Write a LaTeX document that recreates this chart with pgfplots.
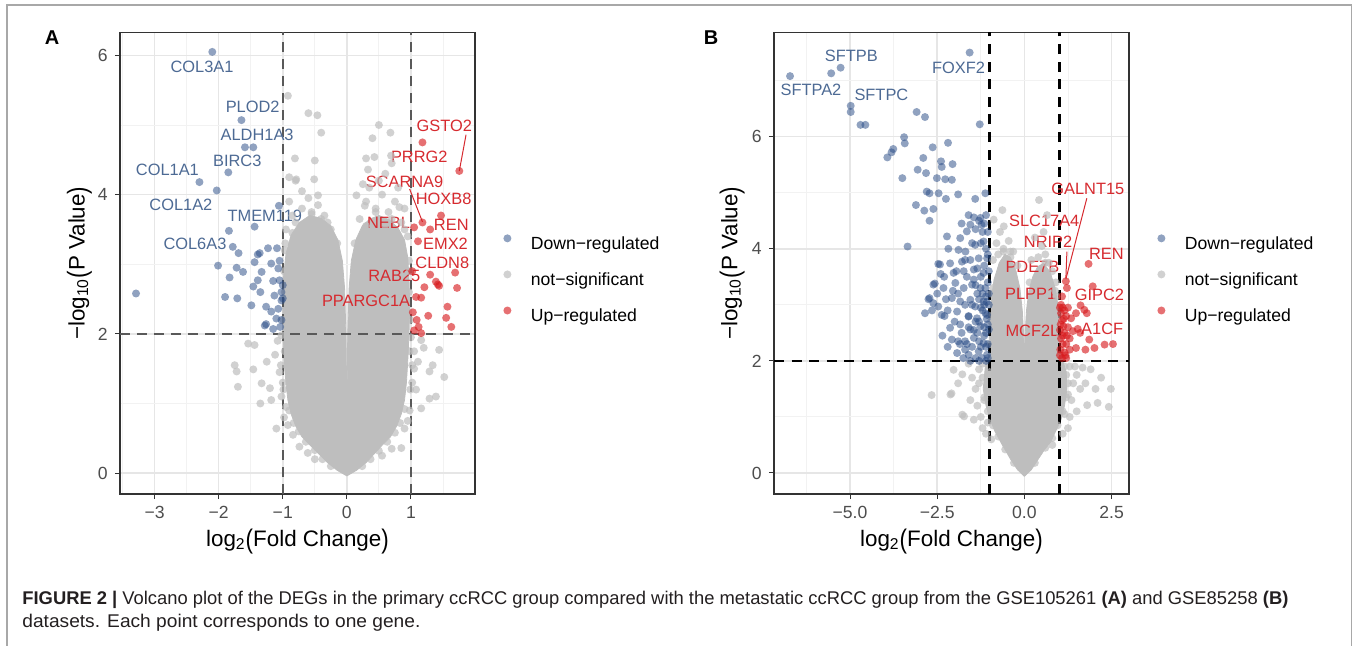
\documentclass[border=0pt]{standalone}
\usepackage{graphicx}
\usepackage{pgfplots}
\pgfplotsset{compat=1.18}
\usepackage{fontspec}
\setmainfont{Liberation Sans}
\definecolor{ptgray}{HTML}{BEBEBE}
\definecolor{cloudgray}{HTML}{BEBEBE}
\definecolor{ptblue}{HTML}{2A4C86}
\definecolor{ptred}{HTML}{D7191C}
\definecolor{lblblue}{HTML}{4D6A94}
\definecolor{lblred}{HTML}{D62A2F}
\definecolor{ticklab}{HTML}{4D4D4D}
\definecolor{gridmaj}{HTML}{E6E6E6}
\definecolor{gridmin}{HTML}{F2F2F2}
\definecolor{framecol}{HTML}{A8A8A8}
\definecolor{capcol}{HTML}{231F20}
\newcommand\bpar[1]{\raisebox{-0.08em}{\scalebox{1}[1.2]{#1}}}
\pgfplotsset{
  volcano/.style={
    scale only axis, width=177.5pt, height=230.8pt,
    axis line style={draw=black!80, line width=0.6pt},
    tick align=outside, major tick length=2.6pt, minor tick length=0pt,
    tick pos=left,
    tick style={draw=black!80, line width=0.5pt},
    grid=both,
    major grid style={draw=gridmaj, line width=0.75pt},
    minor grid style={draw=gridmin, line width=0.45pt},
    ticklabel style={font=\fontsize{8.8}{10}\selectfont, text=ticklab},
    xlabel style={font=\fontsize{11.2}{13}\selectfont, at={(axis description cs:0.5,-0.102)}, anchor=center},
    ylabel style={font=\fontsize{11.2}{13}\selectfont, anchor=center},
    xlabel={log\textsubscript{2}\bpar{(}Fold Change\bpar{)}},
    ylabel={−log\textsubscript{10}\bpar{(}P Value\bpar{)}},
    legend style={at={(axis description cs:1,0.465)}, anchor=west, xshift=13.5pt, draw=none, fill=none, inner sep=0pt, font=\fontsize{8.8}{10}\selectfont, row sep=9.1pt, nodes={inner sep=0pt}},
    legend cell align=left,
    legend image code/.code={\path[draw=none,fill=none] (0pt,0pt) rectangle (14.2pt,5pt); \draw[#1] plot coordinates {(2.5pt,3pt)};},
  },
  ptbase/.style={only marks, mark=*, mark size=2pt, forget plot},
  gpts/.style={ptbase, color=ptgray, mark options={draw=ptgray, fill=ptgray, draw opacity=0, fill opacity=0.7}},
  bpts/.style={ptbase, color=ptblue, mark options={draw=ptblue, fill=ptblue, draw opacity=0, fill opacity=0.52}},
  rpts/.style={ptbase, color=ptred, mark options={draw=ptred, fill=ptred, draw opacity=0, fill opacity=0.62}},
  legB/.style={only marks, mark=*, mark size=2pt, color=ptblue, mark options={draw=ptblue, fill=ptblue, draw opacity=0, fill opacity=0.52}},
  legG/.style={only marks, mark=*, mark size=2pt, color=ptgray, mark options={draw=ptgray, fill=ptgray, draw opacity=0, fill opacity=0.7}},
  legR/.style={only marks, mark=*, mark size=2pt, color=ptred, mark options={draw=ptred, fill=ptred, draw opacity=0, fill opacity=0.62}},
}
\tikzset{
  lblB/.style={font=\fontsize{8.2}{9}\selectfont, text=lblblue, inner sep=0pt},
  lblR/.style={font=\fontsize{8.2}{9}\selectfont, text=lblred, inner sep=0pt},
}
\begin{document}
\begin{tikzpicture}
\path[use as bounding box] (0pt,0pt) rectangle (678.5pt,322.5pt);
\draw[framecol, line width=0.8pt] (3.6pt,-5pt) rectangle (675.7pt,320pt);

% ---------------- Panel A ----------------
\begin{axis}[volcano, at={(60pt,75.5pt)}, anchor=south west,
  xmin=-3.54, xmax=2.0, ymin=-0.30, ymax=6.33,
  xtick={-3,-2,-1,0,1}, xticklabels={−3,−2,−1,0,1},
  minor xtick={-3.5,-2.5,-1.5,-0.5,0.5,1.5},
  ytick={0,2,4,6}, yticklabels={0,2,4,6},
  minor ytick={1,3,5},
  ylabel style={at={(axis description cs:-0.114,0.5)}},
]
% dense cloud of not-significant genes
\addplot[fill=cloudgray, draw=cloudgray, line width=0.4pt, line join=round, forget plot] coordinates {
(0,-0.04) (0.15,0.04) (0.3,0.15) (0.42,0.27) (0.55,0.40) (0.68,0.52) (0.78,0.68) (0.85,0.85)
(0.9,1.05) (0.93,1.3) (0.95,1.6) (0.97,2.0) (0.98,2.4) (0.97,2.8) (0.95,3.1) (0.9,3.35)
(0.8,3.52) (0.66,3.64) (0.5,3.7) (0.36,3.65) (0.24,3.55) (0.14,3.35) (0.07,3.05) (0.035,2.65)
(0.014,2.0) (0.004,1.15) (-0.004,1.15) (-0.014,2.0) (-0.035,2.65) (-0.07,3.05) (-0.14,3.35) (-0.25,3.55)
(-0.4,3.66) (-0.58,3.7) (-0.74,3.6) (-0.87,3.42) (-0.95,3.15) (-0.99,2.8) (-1.0,2.4) (-1.0,2.0)
(-0.98,1.6) (-0.95,1.3) (-0.92,1.05) (-0.87,0.85) (-0.8,0.68) (-0.7,0.52) (-0.57,0.40) (-0.43,0.27)
(-0.3,0.15) (-0.15,0.04) (0,-0.04)};
\addplot[gpts] coordinates {
(-1.54,1.86) (-1.44,1.84) (-1.75,1.55) (-1.72,1.46) (-1.70,1.24) (-1.46,1.49) (-1.33,1.29) (-1.20,1.22)
(-1.35,1.0) (-1.10,0.64) (-1.18,1.05) (-1.12,1.7) (-1.05,1.45) (-1.08,1.9) (-1.25,1.6) (-1.02,1.1)
(-0.98,0.8) (-0.92,0.69) (-0.84,0.55) (-0.61,0.29) (-0.74,0.38) (-0.5,0.2) (-0.95,0.95) (-1.0,1.3)
(1.16,1.91) (1.44,1.77) (1.34,1.55) (1.29,1.46) (1.52,1.38) (1.11,1.60) (1.29,1.07) (1.39,1.10)
(1.16,0.93) (0.85,0.36) (0.90,0.64) (1.05,1.75) (1.02,1.3) (1.08,1.2) (0.98,0.9) (1.05,1.5)
(0.95,0.75) (0.7,0.35) (0.55,0.25) (1.2,1.8) (1.0,1.95) (-1.02,1.98)
(-0.97,1.75) (-1.03,1.55) (-0.99,1.2) (-0.9,0.9) (-0.83,0.72) (-0.75,0.6) (-0.64,0.45) (-0.5,0.33)
(-0.38,0.2) (-0.25,0.1) (-0.99,2.2) (-0.98,2.9) (-0.96,3.3)
(0.98,1.75) (1.02,1.55) (0.99,1.2) (0.9,0.92) (0.83,0.72) (0.75,0.58) (0.63,0.45) (0.5,0.32)
(0.37,0.2) (0.24,0.1) (0.99,2.2) (0.98,2.9) (0.9,3.5)
(-0.55,3.75) (-0.4,3.65) (0.45,3.75) (0.7,3.65) (0.3,3.55) (-0.85,3.45)
(-0.92,5.42) (-0.60,5.17) (-0.46,5.14) (-0.40,4.89) (0.50,5.0) (0.68,4.89) (0.40,4.81) (-0.81,4.52)
(-0.50,4.49) (-0.79,4.22) (-0.51,4.22) (0.33,4.36) (0.43,4.54) (0.30,4.52) (0.69,4.56) (-0.80,4.2)
(-0.45,3.99) (0.15,3.99) (0.28,3.84) (0.82,3.82)
(-0.9,3.9) (-0.85,3.7) (-0.7,3.8) (-0.6,3.95) (-0.55,3.72) (-0.45,3.85) (-0.35,3.7) (-0.7,4.05)
(-0.3,3.6) (-0.8,3.6) (-0.95,3.5) (-0.9,4.25) (-0.25,3.5) (-0.15,3.3)
(0.2,3.65) (0.3,3.9) (0.45,3.8) (0.55,4.0) (0.65,3.75) (0.75,3.9) (0.85,3.6) (0.35,4.1)
(0.5,4.2) (0.6,4.3) (0.25,4.15) (0.8,4.1) (0.9,3.8) (0.7,4.45) (0.95,3.4) (0.12,3.3)
(-0.97,3.2) (-0.97,2.6) (0.97,2.6) (0.97,3.05) (-0.65,3.3) (0.6,3.5)};
\addplot[bpts] coordinates {
(-2.10,6.05) (-1.645,5.07) (-1.59,4.68) (-1.46,4.68) (-1.85,4.32) (-2.30,4.18) (-2.03,4.06) (-1.44,3.54)
(-1.06,3.84) (-1.84,3.48) (-1.78,3.25) (-1.69,3.16) (-1.39,3.14) (-1.36,3.16) (-1.23,3.23) (-1.09,3.23)
(-1.44,3.03) (-2.01,2.98) (-1.72,2.95) (-1.62,2.89) (-1.33,2.89) (-1.18,3.01) (-1.07,2.94) (-1.83,2.81)
(-1.39,2.77) (-1.15,2.76) (-1.05,2.77) (-1.46,2.68) (-3.29,2.58) (-1.90,2.53) (-1.71,2.51) (-1.35,2.60)
(-1.02,2.60) (-1.00,2.51) (-1.02,2.48) (-1.49,2.41) (-1.26,2.39) (-1.18,2.32) (-1.07,2.36) (-1.10,2.22)
(-1.28,2.12) (-1.26,2.14) (-1.15,2.07) (-1.04,2.10) (-1.0,2.7) (-1.05,3.05) (-1.02,2.2) (-1.13,2.55)};
\addplot[rpts] coordinates {
(1.755,4.34) (1.18,4.75) (1.18,3.60) (1.47,3.70) (1.05,3.53) (1.30,3.50) (1.11,3.33) (1.30,2.85)
(1.69,2.88) (1.39,2.75) (1.44,2.69) (1.42,2.71) (1.72,2.66) (1.21,2.67) (1.08,2.53) (1.16,2.52)
(1.57,2.39) (1.03,2.31) (1.27,2.26) (1.55,2.23) (1.63,2.10) (1.12,2.10) (1.16,2.01) (1.05,2.05)
(1.02,2.9) (1.09,2.2)};
\addplot[lblred, line width=0.5pt, forget plot] coordinates {(1.86,4.86) (1.755,4.34)};
\addplot[lblred, line width=0.5pt, forget plot] coordinates {(0.98,4.08) (1.18,3.61)};
\addplot[draw=black!65, line width=0.9pt, dash pattern=on 5pt off 3.5pt, forget plot] coordinates {(-1,-0.30) (-1,6.33)};
\addplot[draw=black!65, line width=0.9pt, dash pattern=on 5pt off 3.5pt, forget plot] coordinates {(1,-0.30) (1,6.33)};
\addplot[draw=black!65, line width=0.9pt, dash pattern=on 5pt off 3.5pt, forget plot] coordinates {(-3.54,2) (2.0,2)};
\node[lblB] at (axis cs:-2.26,5.84) {COL3A1};
\node[lblB] at (axis cs:-1.47,5.26) {PLOD2};
\node[lblB] at (axis cs:-1.40,4.86) {ALDH1A3};
\node[lblB] at (axis cs:-1.71,4.49) {BIRC3};
\node[lblB] at (axis cs:-2.80,4.35) {COL1A1};
\node[lblB] at (axis cs:-2.59,3.85) {COL1A2};
\node[lblB] at (axis cs:-1.28,3.70) {TMEM119};
\node[lblB] at (axis cs:-2.37,3.30) {COL6A3};
\node[lblR] at (axis cs:1.52,4.99) {GSTO2};
\node[lblR] at (axis cs:1.13,4.54) {PRRG2};
\node[lblR] at (axis cs:0.90,4.19) {SCARNA9};
\node[lblR] at (axis cs:1.51,3.94) {HOXB8};
\node[lblR] at (axis cs:0.65,3.60) {NEBL};
\node[lblR] at (axis cs:1.63,3.56) {REN};
\node[lblR] at (axis cs:1.54,3.30) {EMX2};
\node[lblR] at (axis cs:1.49,3.02) {CLDN8};
\node[lblR] at (axis cs:0.74,2.83) {RAB25};
\node[lblR] at (axis cs:0.30,2.48) {PPARGC1A};
\addlegendimage{legB}\addlegendentry{Down−regulated}
\addlegendimage{legG}\addlegendentry{not−significant}
\addlegendimage{legR}\addlegendentry{Up−regulated}
\end{axis}

% ---------------- Panel B ----------------
\begin{axis}[volcano, at={(387pt,75.5pt)}, anchor=south west,
  xmin=-7.18, xmax=3.0, ymin=-0.375, ymax=7.86,
  xtick={-5,-2.5,0,2.5}, xticklabels={−5.0,−2.5,0.0,2.5},
  minor xtick={-6.25,-3.75,-1.25,1.25},
  ytick={0,2,4,6}, yticklabels={0,2,4,6},
  minor ytick={1,3,5,7},
  ylabel style={at={(axis description cs:-0.118,0.5)}},
]
\addplot[fill=cloudgray, draw=cloudgray, line width=0.4pt, line join=round, forget plot] coordinates {
(0,-0.06) (0.2,0.06) (0.4,0.25) (0.58,0.42) (0.75,0.55) (0.9,0.75) (1.05,0.95) (1.15,1.2)
(1.22,1.5) (1.2,1.8) (1.1,2.0) (1.0,2.2) (0.98,2.6) (0.96,3.0) (0.88,3.3) (0.74,3.58)
(0.55,3.74) (0.38,3.68) (0.24,3.5) (0.13,3.25) (0.06,2.9) (0.02,2.45) (0.006,2.05) (-0.006,2.05)
(-0.02,2.45) (-0.06,2.9) (-0.13,3.3) (-0.24,3.6) (-0.4,3.85) (-0.56,3.9) (-0.72,3.75) (-0.87,3.45)
(-0.97,3.0) (-1.0,2.5) (-1.02,2.1) (-1.12,1.9) (-1.18,1.5) (-1.1,1.2) (-0.98,0.95) (-0.85,0.75)
(-0.65,0.52) (-0.4,0.25) (-0.2,0.06) (0,-0.06)};
\addplot[gpts] coordinates {
(-2.66,1.39) (-2.09,1.42) (-1.78,1.04) (-2.03,1.84) (-1.78,1.76) (-2.12,1.40) (-1.73,1.01) (-1.5,1.7)
(-1.4,1.5) (-1.3,1.85) (-1.55,1.3) (-1.35,1.2) (-1.25,1.0) (-1.2,0.8) (-1.1,0.7) (-0.95,0.6)
(-1.6,1.95) (-1.9,1.6) (-1.45,0.95) (-1.2,1.95) (-1.3,1.6) (-1.15,1.3) (-1.05,0.9)
(-1.0,1.8) (-1.2,1.7) (-1.15,1.35) (-1.05,1.1) (-0.9,0.85) (-0.75,0.65) (-0.55,0.42) (-0.3,0.18)
(-0.98,2.3) (-0.99,2.8) (-0.95,3.2) (-0.6,3.95) (-0.4,3.85)
(2.42,1.18) (2.48,1.5) (2.04,1.5) (1.80,1.21) (1.67,1.88) (1.5,1.75) (1.4,1.6) (1.35,1.3)
(1.3,1.0) (1.5,1.1) (1.6,1.5) (1.9,1.85) (2.2,1.7) (1.25,0.8) (1.1,0.7) (1.45,1.9)
(1.75,1.6) (2.1,1.25) (1.2,1.75) (1.3,1.9) (1.25,1.4) (1.15,1.05) (0.8,0.5)
(1.25,1.6) (1.2,1.35) (1.1,1.1) (0.95,0.85) (0.8,0.62) (0.6,0.45) (0.3,0.18) (0.99,2.4)
(0.97,2.9) (0.88,3.25) (0.6,3.75) (1.15,1.9) (1.0,2.1)
(0.42,4.87) (-0.63,4.69) (-0.88,4.52) (-0.59,4.40) (-0.70,4.30) (-0.45,4.14) (-0.32,3.95) (-0.8,4.1)
(-0.6,4.0) (-0.9,3.8) (-0.4,3.95) (-0.2,3.7) (-0.75,3.9) (-0.9,3.3) (-0.95,2.7)
(0.3,4.2) (0.5,4.05) (0.6,3.9) (0.7,3.75) (0.4,3.85) (0.8,3.6) (0.2,3.8) (0.55,4.3)
(0.9,3.4) (0.15,3.4) (0.65,4.6) (0.95,2.8) (0.92,3.15)};
\addplot[bpts] coordinates {
(-6.72,7.08) (-5.54,7.13) (-5.27,7.23) (-1.57,7.50) (-4.98,6.55) (-4.98,6.44) (-4.70,6.21) (-4.56,6.21)
(-3.09,6.44) (-2.85,6.35) (-1.28,6.22) (-3.45,5.99) (-3.43,5.88) (-3.76,5.78) (-3.81,5.72) (-3.93,5.63)
(-2.63,5.81) (-2.19,5.89) (-2.90,5.62) (-3.06,5.41) (-2.82,5.35) (-2.39,5.56) (-2.37,5.46) (-2.06,5.51)
(-3.50,5.26) (-2.51,5.26) (-2.27,5.24) (-2.08,5.23) (-2.80,5.02) (-2.72,4.99) (-2.46,4.99) (-2.25,4.89)
(-1.90,4.97) (-1.12,4.99) (-3.11,4.78) (-2.87,4.68) (-2.61,4.71) (-2.72,4.50) (-1.41,4.89) (-3.35,4.04)
(-1.45,4.56) (-1.26,4.55) (-1.55,4.43) (-1.23,4.43) (-2.22,4.22) (-1.84,4.19) (-1.65,4.31) (-2.18,4.0)
(-1.89,3.98) (-1.69,3.95) (-1.41,4.07) (-1.17,4.13) (-2.42,3.72) (-2.13,3.74) (-1.79,3.77) (-1.55,3.80)
(-1.31,3.83) (-1.07,3.83) (-2.40,3.55) (-2.03,3.57) (-1.74,3.60) (-1.45,3.63) (-1.17,3.57) (-2.61,3.36)
(-2.32,3.30) (-1.98,3.39) (-1.74,3.30) (-1.50,3.36) (-1.26,3.30) (-2.72,3.12) (-2.61,3.03) (-2.08,3.12)
(-1.84,3.06) (-1.55,3.09) (-1.41,2.97) (-1.17,3.06) (-2.37,2.82) (-1.93,2.88) (-1.60,2.79) (-1.36,2.76)
(-1.07,2.82) (-2.13,2.59) (-1.84,2.65) (-1.55,2.56) (-1.26,2.62) (-1.02,2.56) (-2.08,2.38) (-1.70,2.35)
(-1.45,2.41) (-1.17,2.32) (-1.93,2.14) (-1.60,2.11) (-1.31,2.17) (-1.07,2.11) (-2.75,3.1) (-2.57,3.38)
(-2.47,3.73) (-2.47,2.97) (-2.29,2.8)
(-1.05,2.05) (-1.1,2.25) (-1.15,2.45) (-1.05,2.65) (-1.12,2.85) (-1.08,3.05) (-1.2,3.2) (-1.05,3.4)
(-1.3,2.35) (-1.25,2.95) (-1.4,2.7) (-1.35,3.2) (-1.5,2.25) (-1.6,2.8) (-1.7,3.0) (-1.8,2.5)
(-1.45,3.45) (-1.65,3.5) (-1.9,3.2) (-2.2,2.9) (-2.0,2.7) (-1.15,3.7) (-1.1,4.0) (-1.2,4.3)
(-1.3,4.5) (-1.5,4.1) (-1.7,3.8) (-2.3,3.5) (-1.22,2.05) (-1.4,2.05) (-1.75,2.05) (-1.02,3.2)
(-1.02,3.6) (-1.05,4.3) (-1.1,4.6) (-1.3,2.7) (-1.15,2.6) (-1.2,2.9) (-1.3,3.1) (-1.12,3.3)
(-1.05,2.3) (-1.1,2.5) (-1.08,2.75) (-1.15,3.0) (-1.02,3.0) (-1.1,3.15) (-1.25,3.5) (-1.35,3.65)
(-1.4,3.35) (-1.5,3.0) (-1.6,2.6) (-1.7,2.2) (-1.85,2.3) (-1.45,2.55) (-1.25,2.25) (-1.35,2.5)
(-1.05,3.9) (-1.15,4.45) (-1.25,4.1) (-1.6,4.6) (-1.4,4.35) (-1.8,4.45) (-1.95,3.6) (-2.05,3.25)
(-2.25,3.1) (-2.5,3.2) (-2.65,2.9) (-2.85,2.85) (-1.9,2.35) (-2.35,2.45) (-2.2,2.25) (-1.1,2.0)
(-1.3,2.0) (-1.55,2.0) (-1.65,2.3)};
\addplot[rpts] coordinates {
(1.19,3.42) (1.22,3.30) (1.05,3.0) (1.1,2.95) (1.15,2.9) (1.05,2.85) (1.2,2.8) (1.08,2.72)
(1.12,2.62) (1.02,2.55) (1.15,2.5) (1.22,2.45) (1.05,2.4) (1.1,2.3) (1.03,2.2) (1.15,2.15)
(1.08,2.05) (1.25,2.6) (1.34,2.76) (1.48,2.85) (1.61,2.99) (1.72,2.91) (1.79,2.85) (1.96,3.33)
(1.84,3.73) (1.53,2.57) (1.39,2.53) (1.86,2.38) (1.48,2.23) (1.75,2.20) (2.30,2.29) (2.54,2.30)
(2.01,2.23) (1.3,2.2) (1.02,2.95) (1.18,2.1) (1.6,2.5)
(1.1,2.45) (1.2,2.3) (1.13,2.75) (1.25,2.95) (1.08,3.15) (1.04,2.65) (1.2,2.05) (1.02,2.1) (1.3,2.4)};
\addplot[lblred, line width=0.5pt, forget plot] coordinates {(1.79,4.90) (1.19,3.46)};
\addplot[lblred, line width=0.5pt, forget plot] coordinates {(1.22,3.95) (1.19,3.48)};
\addplot[draw=black, line width=1.3pt, dash pattern=on 5pt off 3.8pt, forget plot] coordinates {(-1,-0.375) (-1,7.86)};
\addplot[draw=black, line width=1.3pt, dash pattern=on 5pt off 3.8pt, forget plot] coordinates {(1,-0.375) (1,7.86)};
\addplot[draw=black, line width=1.3pt, dash pattern=on 5pt off 3.8pt, forget plot] coordinates {(-7.18,2) (3.0,2)};
\node[lblB] at (axis cs:-4.96,7.45) {SFTPB};
\node[lblB] at (axis cs:-6.12,6.83) {SFTPA2};
\node[lblB] at (axis cs:-4.10,6.74) {SFTPC};
\node[lblB] at (axis cs:-1.89,7.23) {FOXF2};
\node[lblR] at (axis cs:1.82,5.06) {GALNT15};
\node[lblR] at (axis cs:0.57,4.50) {SLC17A4};
\node[lblR] at (axis cs:0.68,4.13) {NRIP2};
\node[lblR] at (axis cs:2.35,3.91) {REN};
\node[lblR] at (axis cs:0.23,3.67) {PDE7B};
\node[lblR] at (axis cs:0.18,3.20) {PLPP1};
\node[lblR] at (axis cs:2.15,3.17) {GIPC2};
\node[lblR] at (axis cs:0.23,2.53) {MCF2L};
\node[lblR] at (axis cs:2.23,2.57) {A1CF};
\addlegendimage{legB}\addlegendentry{Down−regulated}
\addlegendimage{legG}\addlegendentry{not−significant}
\addlegendimage{legR}\addlegendentry{Up−regulated}
\end{axis}

\node[font=\bfseries\fontsize{10}{12}\selectfont, inner sep=0pt] at (26pt,303.5pt) {A};
\node[font=\bfseries\fontsize{10}{12}\selectfont, inner sep=0pt] at (355.5pt,303.5pt) {B};

\node[anchor=west, inner sep=0pt, text=capcol] at (11pt,22.5pt) {\resizebox{633pt}{\height}{\fontsize{9.2}{11}\selectfont\textbf{FIGURE 2 |} Volcano plot of the DEGs in the primary ccRCC group compared with the metastatic ccRCC group from the GSE105261 \textbf{(A)} and GSE85258 \textbf{(B)}}};
\node[anchor=west, inner sep=0pt, text=capcol] at (11pt,11pt) {\resizebox{199pt}{\height}{\fontsize{9.2}{11}\selectfont datasets. Each point corresponds to one gene.}};
\end{tikzpicture}
\end{document}
